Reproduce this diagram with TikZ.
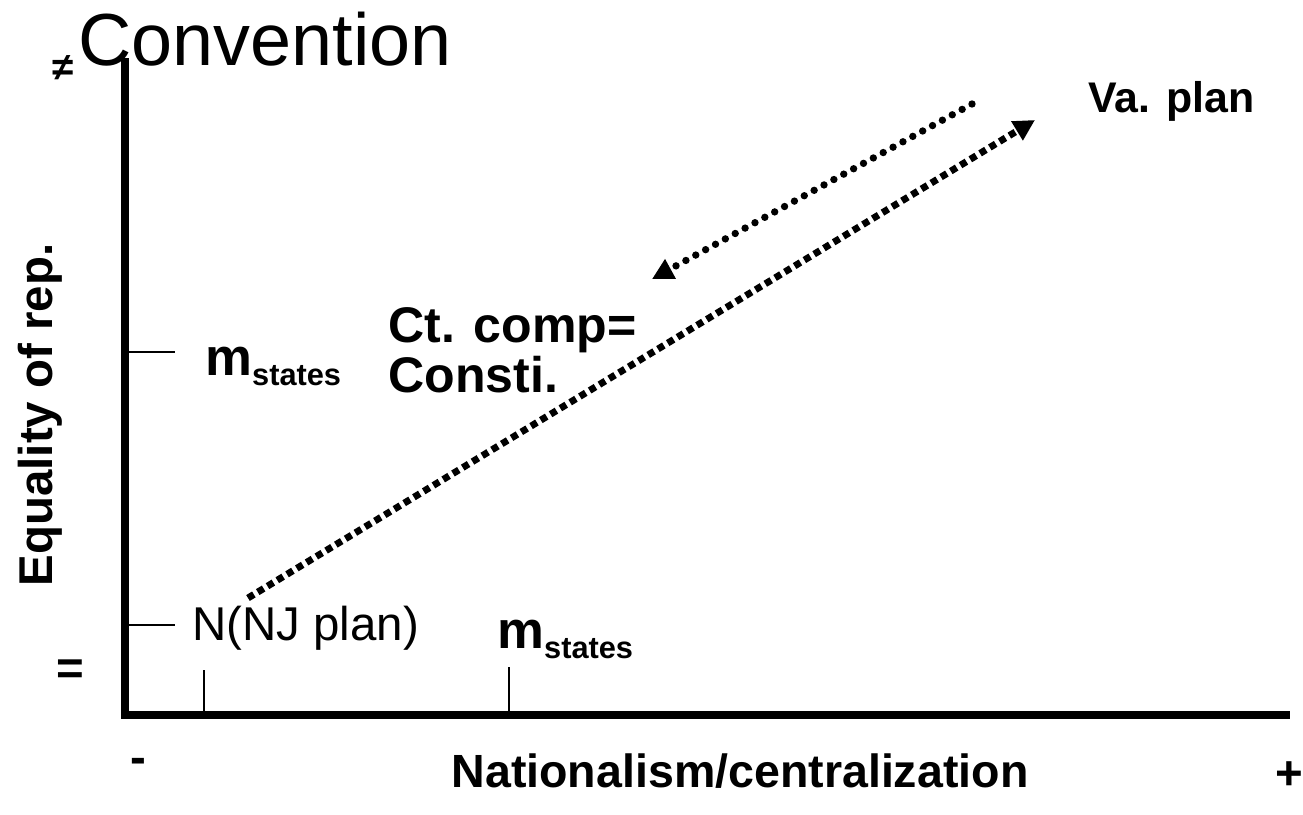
\documentclass[tikz,border=0pt]{standalone}
\usepackage{fontspec}
\setmainfont{Liberation Sans}
\usetikzlibrary{arrows.meta}

\newcommand{\mstates}{\fontsize{30}{30}\selectfont m\raisebox{-6pt}{\fontsize{17.5}{17.5}\selectfont states}}

\begin{document}
\begin{tikzpicture}[x=0.02cm,y=-0.02cm,
    lbl/.style={inner sep=0pt,font=\bfseries\fontsize{27}{27}\selectfont},
    axis/.style={line width=4pt},
    tick/.style={line width=1.1pt},
    rounddots/.style={line width=4.2pt,line cap=round,dash pattern=on 0pt off 6.4pt,-{Triangle[length=12pt,width=12pt]}},
    squaredots/.style={line width=3.9pt,dash pattern=on 3.9pt off 2.6pt,-{Triangle[length=12pt,width=12pt]}}]
    \useasboundingbox (0,0) rectangle (1303,815);

    % axes
    \coordinate (O) at (125,715);
    \coordinate (ytop) at (125,58);
    \coordinate (xend) at (1290,715);
    \draw[axis] (ytop) -- (O) -- (xend);

    % ticks
    \draw[tick] (128,352) -- (175,352);
    \draw[tick] (128,625) -- (175,625);
    \draw[tick] (204,670) -- (204,719);
    \draw[tick] (509,667) -- (509,712);

    \node[inner sep=0pt,anchor=base west,font=\fontsize{42}{42}\selectfont] (conv) at (78,65) {Convention};
    \node[lbl,font=\bfseries\fontsize{22}{22}\selectfont] (neq) at (63,68) {≠};
    \node[lbl,rotate=90] (eqrep) at (40,415) {Equality of rep.};
    \node[lbl] (eqsign) at (70,672) {=};

    \node[lbl,anchor=base west,font=\bfseries\fontsize{24.4}{24.4}\selectfont] (va) at (1088,112) {Va. plan};
    \node[lbl,anchor=base west,font=\bfseries\fontsize{28.5}{28.5}\selectfont] (ct1) at (388,342) {Ct. comp=};
    \node[lbl,anchor=base west,font=\bfseries\fontsize{28.5}{28.5}\selectfont] (ct2) at (388,392) {Consti.};

    \node[inner sep=0pt,anchor=base west,font=\bfseries] (m1) at (205,375) {\mstates};
    \node[inner sep=0pt,anchor=base west,font=\bfseries] (m2) at (497,648) {\mstates};
    \node[inner sep=0pt,anchor=base west,font=\fontsize{27}{27}\selectfont] (nj) at (192,640) {N(NJ plan)};

    \node[lbl] (minus) at (138,766) {-};
    \node[lbl] (plus) at (1289,776) {+};
    \node[lbl,anchor=base,font=\bfseries\fontsize{26.5}{26.5}\selectfont] (nat) at (740,787) {Nationalism/centralization};

    % plans
    \coordinate (vastart) at (972,104);
    \coordinate (vaend) at (652,279);
    \coordinate (ctstart) at (248,598);
    \coordinate (ctend) at (1035,120);
    \draw[rounddots] (vastart) -- (vaend);
    \draw[squaredots] (ctstart) -- (ctend);
\end{tikzpicture}
\end{document}
